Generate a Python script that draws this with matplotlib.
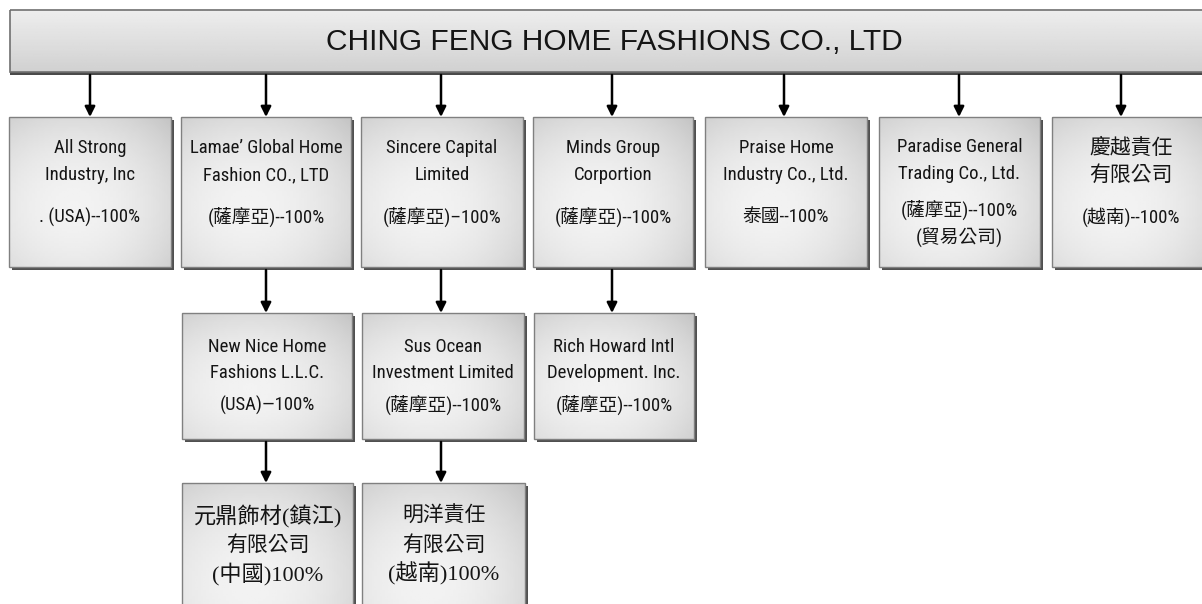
import numpy as np
import matplotlib
matplotlib.use("Agg")
import matplotlib.pyplot as plt
from matplotlib import font_manager
from matplotlib.patches import Rectangle

title = "CHING FENG HOME FASHIONS CO., LTD"

# first level: one box per column
row1_labels = [
    ["All Strong", "Industry, Inc", ". (USA)--100%"],
    ["Lamae\u2019 Global Home", "Fashion CO., LTD", "(薩摩亞)--100%"],
    ["Sincere Capital", "Limited", "(薩摩亞)\u2013100%"],
    ["Minds Group", "Corportion", "(薩摩亞)--100%"],
    ["Praise Home", "Industry Co., Ltd.", "泰國--100%"],
    ["Paradise General", "Trading Co., Ltd.", "(薩摩亞)--100%", "(貿易公司)"],
    ["慶越責任", "有限公司", "(越南)--100%"],
]
# second level: column of parent box
row2_parent = [1, 2, 3]
row2_labels = [
    ["New Nice Home", "Fashions L.L.C.", "(USA)\u2014100%"],
    ["Sus Ocean", "Investment Limited", "(薩摩亞)--100%"],
    ["Rich Howard Intl", "Development. Inc.", "(薩摩亞)--100%"],
]
# third level
row3_parent = [1, 2]
row3_labels = [
    ["元鼎飾材(鎮江)", "有限公司", "(中國)100%"],
    ["明洋責任", "有限公司", "(越南)100%"],
]

# layout (pixels)
W, H = 1202, 604
col_left = [9, 181, 361, 533, 705, 879, 1052]
col_right = [171, 351, 523, 693, 867, 1040, 1215]
col_mid = [90, 266, 441, 612, 784, 959, 1121]
top_box = (10, 10, 1215, 72)
row_top = [117, 313, 483]
row_bot = [267, 439, 650]
row_offsets = [[31, 58, 100], [34, 60, 92], [34, 63, 91]]
four_line_offsets = [30, 57, 93, 121]

CJK = "Noto Sans CJK TC"
INK = "#151515"

# a narrow sans like the original if one is around, else plain Liberation Sans
names = set(f.name for f in font_manager.fontManager.ttflist)
narrow = [n for n in ["Liberation Sans Narrow", "Arial Narrow", "Roboto Condensed"]
          if n in names]
if narrow:
    sans = [narrow[0], CJK]
    sans_size = 13.5
else:
    sans = ["Liberation Sans", CJK]
    sans_size = 13
serif = ["Liberation Serif", CJK]

fig = plt.figure(figsize=(W / 100, H / 100), dpi=100)
ax = fig.add_axes([0, 0, 1, 1])
ax.set_xlim(0, W)
ax.set_ylim(H, 0)
ax.axis("off")


def box_gradient(n=60, m=60):
    u = np.linspace(0, 1, m)[None, :]
    v = np.linspace(0, 1, n)[:, None]
    r2 = (u - 0.4) ** 2 + (v - 0.6) ** 2
    return 0.95 - 0.25 * r2


def draw_box(x0, y0, x1, y1, grad):
    ax.add_patch(Rectangle((x0 + 3, y0 + 3), x1 - x0, y1 - y0,
                           fc="#505050", ec="none", zorder=1))
    ax.imshow(grad, cmap="gray", vmin=0, vmax=1, extent=[x0, x1, y1, y0],
              origin="upper", aspect="auto", interpolation="bilinear", zorder=2)
    ax.add_patch(Rectangle((x0, y0), x1 - x0, y1 - y0, fill=False,
                           ec="#808080", lw=1, zorder=3))


def arrow(x, ya, yb):
    ax.annotate("", xy=(x, yb), xytext=(x, ya),
                arrowprops=dict(arrowstyle="-|>", color="k", lw=1.8,
                                mutation_scale=15, shrinkA=0, shrinkB=0),
                zorder=4)


def put_lines(cx, top, lines, offsets, family, size):
    if len(lines) == 4:
        offsets = four_line_offsets
    for line, off in zip(lines, offsets):
        s = size
        if all(ord(c) >= 0x2E80 for c in line):
            s = 15
        ax.text(cx, top + off, line, ha="center", va="center",
                family=family, fontsize=s, color=INK, zorder=5)


# top box
tg = np.linspace(0.93, 0.82, 40)[:, None] * np.ones((1, 10))
x0, y0, x1, y1 = top_box
ax.add_patch(Rectangle((x0, y0 + 3), x1 - x0, y1 - y0, fc="#4a4a4a", ec="none", zorder=1))
ax.imshow(tg, cmap="gray", vmin=0, vmax=1, extent=[x0, x1, y1, y0],
          origin="upper", aspect="auto", interpolation="bilinear", zorder=2)
ax.add_patch(Rectangle((x0, y0), x1 - x0, y1 - y0, fill=False, ec="#707070", lw=1.2, zorder=3))
ax.text(614, 42, title, ha="center", va="center", family="Liberation Sans",
        fontsize=21.5, color=INK, zorder=5)

g = box_gradient()
for i, lines in enumerate(row1_labels):
    draw_box(col_left[i], row_top[0], col_right[i], row_bot[0], g)
    arrow(col_mid[i], top_box[3] + 3, row_top[0])
    cx = (col_left[i] + min(col_right[i], 1210)) / 2
    put_lines(cx, row_top[0], lines, row_offsets[0], sans, sans_size)

for p, lines in zip(row2_parent, row2_labels):
    draw_box(col_left[p] + 1, row_top[1], col_right[p] + 1, row_bot[1], g)
    arrow(col_mid[p], row_bot[0] + 3, row_top[1])
    put_lines((col_left[p] + col_right[p]) / 2 + 1, row_top[1], lines,
              row_offsets[1], sans, sans_size)

for p, lines in zip(row3_parent, row3_labels):
    draw_box(col_left[p] + 1, row_top[2], col_right[p] + 2, row_bot[2], g)
    arrow(col_mid[p], row_bot[1] + 3, row_top[2])
    put_lines((col_left[p] + col_right[p]) / 2 + 2, row_top[2], lines,
              row_offsets[2], serif, 16)

ax.set_xlim(0, W)
ax.set_ylim(H, 0)
fig.savefig("out.png", dpi=100)
